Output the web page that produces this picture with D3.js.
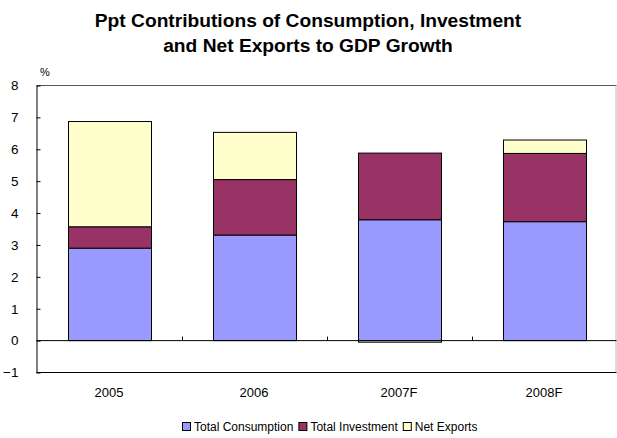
<!DOCTYPE html>
<html>
<head>
<meta charset="utf-8">
<script src="https://cdn.jsdelivr.net/npm/d3@7"></script>
<style>
  html, body { margin: 0; padding: 0; background: #fff; }
  svg { display: block; font-family: "Liberation Sans", Arial, sans-serif; }
</style>
</head>
<body>
<svg id="chart" width="617" height="438"></svg>
<script>
// Contributions (percentage points) to GDP growth
const years = ["2005", "2006", "2007F", "2008F"];
const consumption = [2.90, 3.31, 3.79, 3.73];
const investment = [0.67, 1.74, 2.09, 2.14];
const netExports = [3.30, 1.48, -0.05, 0.42];
const seriesNames = ["Total Consumption", "Total Investment", "Net Exports"];
const seriesColors = ["#9999FF", "#993366", "#FFFFCC"];
const yTicks = [-1, 0, 1, 2, 3, 4, 5, 6, 7, 8];

const rows = years.map((y, i) => ({
  year: y,
  "Total Consumption": consumption[i],
  "Total Investment": investment[i],
  "Net Exports": netExports[i]
}));

const svg = d3.select("#chart");
const plot = { left: 36.5, right: 616.5, top: 85.5, bottom: 372.5 };

const x = d3.scaleBand().domain(years).range([plot.left, plot.right]).paddingInner(0.43).paddingOuter(0.215);
const xb = d3.scaleBand().domain(years).range([plot.left, plot.right]);
const y = d3.scaleLinear().domain([-1, 8]).range([plot.bottom, plot.top]);

// Title
const title = svg.append("text")
  .attr("x", 308).attr("text-anchor", "middle")
  .attr("font-weight", "bold").attr("font-size", 19.2).attr("fill", "#000");
title.append("tspan").attr("x", 308).attr("y", 27).text("Ppt Contributions of Consumption, Investment");
title.append("tspan").attr("x", 308).attr("y", 52).text("and Net Exports to GDP Growth");

// Unit label
svg.append("text").attr("x", 40).attr("y", 76).attr("font-size", 11).text("%");

// Plot frame
svg.append("line").attr("x1", plot.left).attr("x2", plot.right).attr("y1", plot.top).attr("y2", plot.top)
  .attr("stroke", "#555").attr("stroke-width", 1);
svg.append("line").attr("x1", plot.right - 0.5).attr("x2", plot.right - 0.5).attr("y1", plot.top).attr("y2", plot.bottom)
  .attr("stroke", "#bbb").attr("stroke-width", 1);
svg.append("line").attr("x1", plot.left).attr("x2", plot.right).attr("y1", plot.bottom).attr("y2", plot.bottom)
  .attr("stroke", "#000").attr("stroke-width", 1);

// Stacked bars
const stack = d3.stack().keys(seriesNames).offset(d3.stackOffsetDiverging);
const layers = stack(rows);

svg.append("g").selectAll("g")
  .data(layers).join("g")
  .attr("fill", (d, i) => seriesColors[i])
  .selectAll("rect")
  .data(d => d).join("rect")
  .attr("x", d => Math.round(x(d.data.year)) + 0.5)
  .attr("width", Math.round(x.bandwidth()))
  .attr("y", d => y(Math.max(d[0], d[1])))
  .attr("height", d => Math.abs(y(d[0]) - y(d[1])))
  .attr("stroke", "#000").attr("stroke-width", 1);

// Zero baseline with category separators
svg.append("line").attr("x1", plot.left).attr("x2", plot.right).attr("y1", y(0)).attr("y2", y(0))
  .attr("stroke", "#000").attr("stroke-width", 1);
svg.append("g").selectAll("line")
  .data(years.slice(1)).join("line")
  .attr("x1", d => Math.round(xb(d)) + 0.5).attr("x2", d => Math.round(xb(d)) + 0.5)
  .attr("y1", y(0)).attr("y2", y(0) - 4)
  .attr("stroke", "#000");

// Y axis
const yAxis = d3.axisLeft(y).tickValues(yTicks).tickSizeInner(-4).tickSizeOuter(0).tickPadding(18).tickFormat(d3.format("d"));
const gy = svg.append("g").attr("transform", `translate(${plot.left},0)`).call(yAxis);
gy.select(".domain").attr("stroke", "#000");
gy.selectAll("line").attr("stroke", "#000");
gy.selectAll("text").attr("font-size", 13.5).attr("fill", "#000").attr("font-family", "Liberation Sans, Arial, sans-serif");

// X labels
svg.append("g").selectAll("text")
  .data(years).join("text")
  .attr("x", d => xb(d) + xb.bandwidth() / 2)
  .attr("y", 397)
  .attr("text-anchor", "middle").attr("font-size", 13).attr("fill", "#000")
  .text(d => d);

// Legend
const legend = svg.append("g").attr("font-size", 12);
let lx = 182;
seriesNames.forEach((name, i) => {
  legend.append("rect").attr("x", lx + 0.5).attr("y", 422.5).attr("width", 8).attr("height", 8)
    .attr("fill", seriesColors[i]).attr("stroke", "#000");
  const t = legend.append("text").attr("x", lx + 12).attr("y", 431).attr("fill", "#000").text(name);
  lx += 12 + t.node().getComputedTextLength() + 5;
});
</script>
</body>
</html>
